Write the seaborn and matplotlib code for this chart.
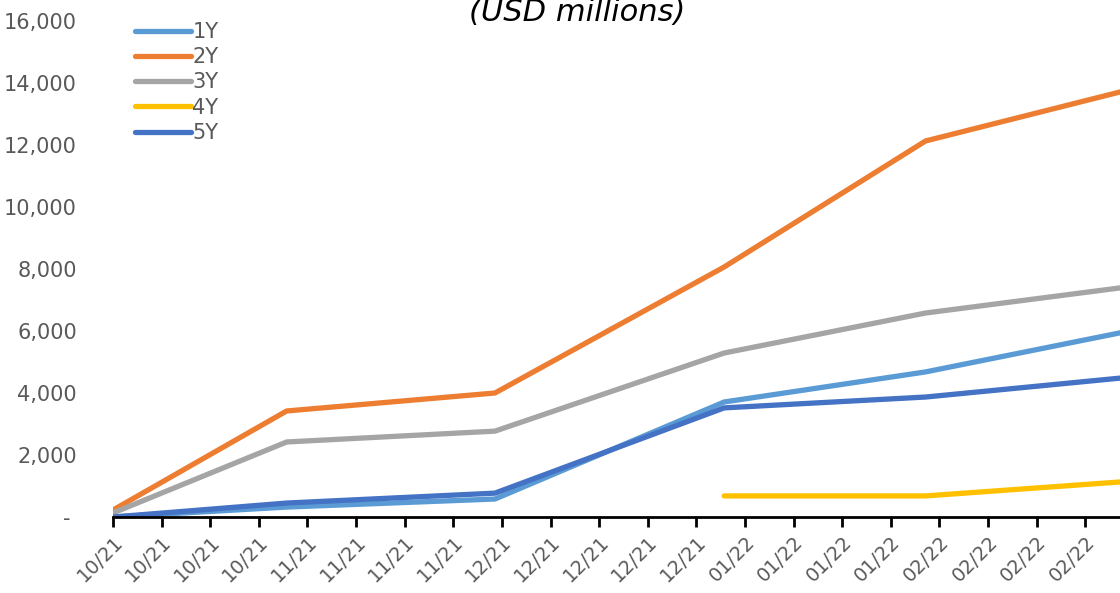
import numpy as np
import pandas as pd
import matplotlib
matplotlib.use("Agg")
import matplotlib.pyplot as plt
import matplotlib.dates as mdates
from matplotlib.ticker import FixedLocator, FuncFormatter
import seaborn as sns

# ---------------- data ----------------
dates = ["2021-10-07", "2021-11-01", "2021-12-01", "2022-01-03", "2022-02-01", "2022-03-01"]
series_names = ["1Y", "2Y", "3Y", "4Y", "5Y"]
y_1y = [0, 320, 580, 3710, 4680, 5940]
y_2y = [225, 3420, 4000, 8065, 12130, 13710]
y_3y = [130, 2420, 2770, 5290, 6580, 7390]
y_4y = [np.nan, np.nan, np.nan, 680, 680, 1130]
y_5y = [0, 450, 770, 3520, 3870, 4480]
colors = ["#5B9BD5", "#ED7D31", "#A5A5A5", "#FFC000", "#4472C4"]
y_ticks = [0, 2000, 4000, 6000, 8000, 10000, 12000, 14000, 16000]
x_tick_start = "2021-10-07"
x_tick_count = 21
x_range = ("2021-10-07", "2022-03-01")
title = "(USD millions)"

values = {"1Y": y_1y, "2Y": y_2y, "3Y": y_3y, "4Y": y_4y, "5Y": y_5y}
df = pd.DataFrame(
    [(pd.Timestamp(d), name, v) for name in series_names for d, v in zip(dates, values[name])],
    columns=["date", "series", "value"],
).dropna()

# ---------------- plot ----------------
sns.set_theme(style="white")
plt.rcParams["font.family"] = ["DejaVu Sans"]

W, H = 1120, 593
fig = plt.figure(figsize=(W / 100, H / 100), dpi=100)
ax = fig.add_axes([113 / W, 1 - 517 / H, 1 - 113 / W, (517 - 21) / H])

sns.lineplot(
    data=df, x="date", y="value", hue="series", hue_order=series_names,
    palette=colors, linewidth=3.8, ax=ax, sort=True, estimator=None,
)
for ln in ax.get_lines():
    ln.set_solid_capstyle("round")

ax.set_xlim(pd.Timestamp(x_range[0]), pd.Timestamp(x_range[1]))
ax.set_ylim(0, 16000)

text_color = "#595959"
ticks_x = pd.date_range(x_tick_start, periods=x_tick_count, freq="7D")
ax.xaxis.set_major_locator(FixedLocator(mdates.date2num(ticks_x)))
ax.xaxis.set_major_formatter(mdates.DateFormatter("%m/%y"))
ax.yaxis.set_major_locator(FixedLocator(y_ticks))
ax.yaxis.set_major_formatter(FuncFormatter(lambda v, p: "- " if v == 0 else f"{int(v):,}"))

for lab in ax.get_xticklabels():
    lab.set_rotation(45)
    lab.set_ha("right")
    lab.set_rotation_mode("anchor")

ax.tick_params(axis="x", direction="out", length=7, width=2, color="black",
               labelsize=14, labelcolor=text_color, pad=4, bottom=True)
ax.tick_params(axis="y", left=False, labelsize=15, labelcolor=text_color, pad=20)

for s in ["top", "right", "left"]:
    ax.spines[s].set_visible(False)
ax.spines["bottom"].set_color("black")
ax.spines["bottom"].set_linewidth(2)
ax.grid(False)
ax.set_xlabel("")
ax.set_ylabel("")

leg = ax.legend(
    loc="upper left", bbox_to_anchor=(135 / W, 1 - 22 / H), bbox_transform=fig.transFigure,
    frameon=False, fontsize=15, handlelength=2.7, handletextpad=0.05,
    labelspacing=0.25, borderpad=0, borderaxespad=0,
)
for t in leg.get_texts():
    t.set_color(text_color)
for h in leg.get_lines():
    h.set_linewidth(3.8)
    h.set_solid_capstyle("round")

fig.text(577 / W, 1 - 21 / H, title, ha="center", va="baseline",
         fontsize=22, style="italic", color="black")

fig.savefig("out.png", dpi=100)
